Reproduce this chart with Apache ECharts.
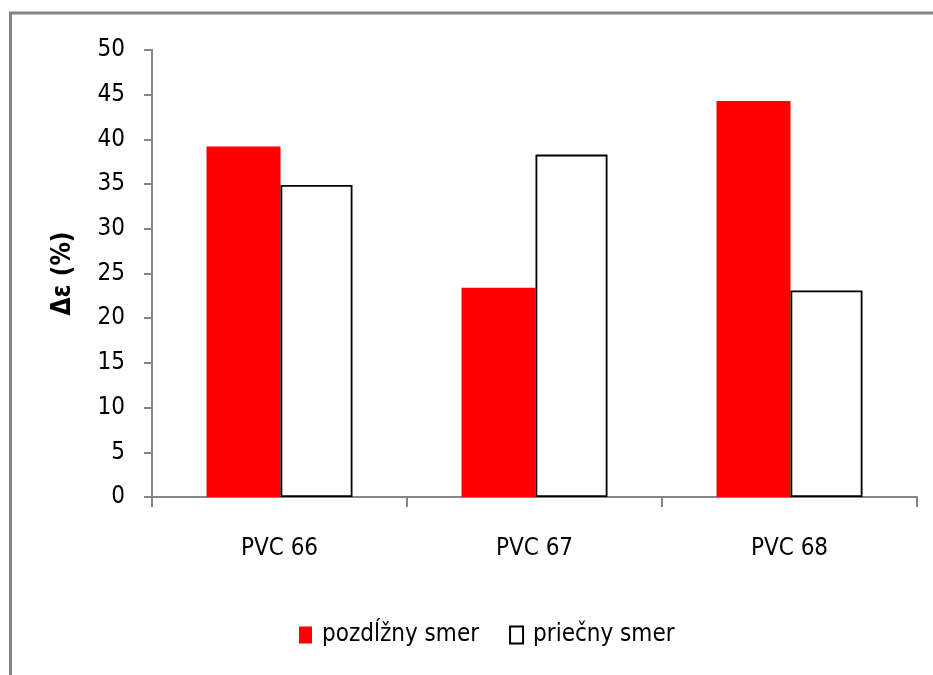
<!DOCTYPE html>
<html>
<head>
<meta charset="utf-8">
<script src="https://cdn.jsdelivr.net/npm/echarts@6/dist/echarts.min.js"></script>
<style>
  html, body { margin: 0; padding: 0; background: #fff; }
  #chart { width: 933px; height: 675px; }
</style>
</head>
<body>
<div id="chart"></div>
<script>
// Samples and measured elongation change per direction
const categories = ['PVC 66', 'PVC 67', 'PVC 68'];
const pozdlzny = [39.2, 23.4, 44.3];
const priecny = [34.9, 38.3, 23.1];
const seriesNames = ['pozdĺžny smer', 'priečny smer'];
const yAxisTitle = 'Δε (%)';

const FONT = '"DejaVu Sans Condensed", "Liberation Sans Narrow", "Liberation Sans", sans-serif';
const AXIS_GRAY = '#868686';

const chart = echarts.init(document.getElementById('chart'), null, { renderer: 'canvas' });

chart.setOption({
  animation: false,
  backgroundColor: '#fff',
  textStyle: { fontFamily: FONT, color: '#000' },
  graphic: [{
    type: 'rect',
    shape: { x: 10.5, y: 13, width: 1000, height: 1000 },
    style: { fill: 'none', stroke: AXIS_GRAY, lineWidth: 3 },
    silent: true
  }],
  grid: { left: 152, right: 16, top: 50, bottom: 178, containLabel: false },
  legend: {
    top: 618,
    left: 294,
    icon: 'rect',
    itemWidth: 13,
    itemHeight: 17,
    itemGap: 30,
    textStyle: { fontFamily: FONT, fontSize: 24, color: '#000', padding: [0, 0, 0, 5] },
    data: seriesNames
  },
  xAxis: {
    type: 'category',
    data: categories,
    axisLine: { lineStyle: { color: AXIS_GRAY, width: 2 } },
    axisTick: { show: true, length: 10, alignWithLabel: false, lineStyle: { color: AXIS_GRAY, width: 2 } },
    axisLabel: { fontFamily: FONT, fontSize: 24, color: '#000', margin: 40 },
    splitLine: { show: false }
  },
  yAxis: {
    type: 'value',
    min: 0,
    max: 50,
    interval: 5,
    name: yAxisTitle,
    nameLocation: 'middle',
    nameGap: 76,
    nameRotate: 90,
    nameTextStyle: { fontFamily: FONT, fontSize: 26, fontWeight: 'bold', color: '#000' },
    axisLine: { show: true, lineStyle: { color: AXIS_GRAY, width: 2 } },
    axisTick: { show: true, length: 8, lineStyle: { color: AXIS_GRAY, width: 2 } },
    axisLabel: { fontFamily: FONT, fontSize: 24, color: '#000', margin: 27 },
    splitLine: { show: false }
  },
  series: [
    {
      name: seriesNames[0],
      type: 'bar',
      data: pozdlzny,
      barWidth: 74,
      barGap: '0%',
      itemStyle: { color: '#ff0000' }
    },
    {
      name: seriesNames[1],
      type: 'bar',
      data: priecny,
      barWidth: 72,
      barGap: '0%',
      itemStyle: { color: '#ffffff', borderColor: '#000', borderWidth: 1.8 }
    }
  ]
});
</script>
</body>
</html>
